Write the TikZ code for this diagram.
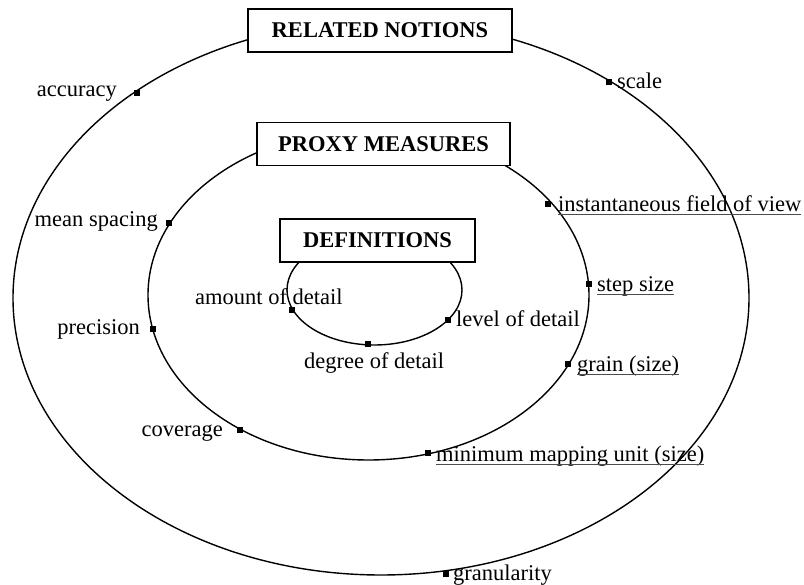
\documentclass[tikz,border=0pt]{standalone}
\usepackage{fontspec}
\setmainfont{Liberation Serif}
\begin{document}
\begin{tikzpicture}[x=1pt,y=-1pt,
  ring/.style={draw, line width=1.4pt},
  title/.style={draw, fill=white, line width=1.4pt, inner sep=0pt, minimum height=43pt, font=\bfseries\fontsize{22.5}{27}\selectfont},
  dot/.style={fill=black, inner sep=0pt, minimum size=5.5pt},
  lbl/.style={inner sep=0pt, font=\fontsize{22.5}{27}\selectfont},
  uline/.style={draw=black!70, line width=1.1pt}]
\useasboundingbox (0,0) rectangle (804,585);
% rings
\coordinate (cout) at (381,298);
\coordinate (cmid) at (368.5,295);
\coordinate (cin) at (374.5,290);
\draw[ring] (cout) ellipse [x radius=368pt, y radius=277pt];
\draw[ring] (cmid) ellipse [x radius=220.5pt, y radius=165pt];
\draw[ring] (cin) ellipse [x radius=87.5pt, y radius=55pt];
% titles
\node[title, minimum width=264pt] (rel) at (380,30.5) {RELATED NOTIONS};
\node[title, minimum width=253pt] (prox) at (383.5,144) {PROXY MEASURES};
\node[title, minimum width=195pt] (def) at (377.5,240.5) {DEFINITIONS};
% related notions
\node[dot] (dacc) at (137,93) {};
\node[lbl, anchor=base east] (acc) at (117,97) {accuracy};
\node[dot] (dscale) at (609,82) {};
\node[lbl, anchor=base west] (scale) at (617,89) {scale};
\node[dot] (dgran) at (446,574) {};
\node[lbl, anchor=base west] (gran) at (453,580) {granularity};
% proxy measures
\node[dot] (dmean) at (169,223) {};
\node[lbl, anchor=base east] (mean) at (158,227) {mean spacing};
\node[dot] (dprec) at (153,329) {};
\node[lbl, anchor=base east] (prec) at (140,335) {precision};
\node[dot] (dcov) at (240,430) {};
\node[lbl, anchor=base east] (cov) at (223,437) {coverage};
\node[dot] (difov) at (548,204) {};
\node[lbl, anchor=base west] (ifov) at (558,212) {instantaneous field of view};
\node[dot] (dstep) at (589,284) {};
\node[lbl, anchor=base west] (stepsz) at (597,292) {step size};
\node[dot] (dgrain) at (568,364) {};
\node[lbl, anchor=base west] (grain) at (577,372) {grain (size)};
\node[dot] (dmmu) at (428,453) {};
\node[lbl, anchor=base west] (mmu) at (436,462) {minimum mapping unit (size)};
% underlines
\foreach \n in {ifov,stepsz,grain,mmu}
  \draw[uline] ([yshift=-2.5pt]\n.base west) -- ([yshift=-2.5pt]\n.base east);
% definitions
\node[dot] (damt) at (292,310) {};
\node[lbl, anchor=base west] (amt) at (195,305) {amount of detail};
\node[dot] (dlev) at (448,320) {};
\node[lbl, anchor=base west] (lev) at (456,327) {level of detail};
\node[dot] (ddeg) at (368,344) {};
\node[lbl, anchor=base west] (deg) at (304,369) {degree of detail};
\end{tikzpicture}
\end{document}
